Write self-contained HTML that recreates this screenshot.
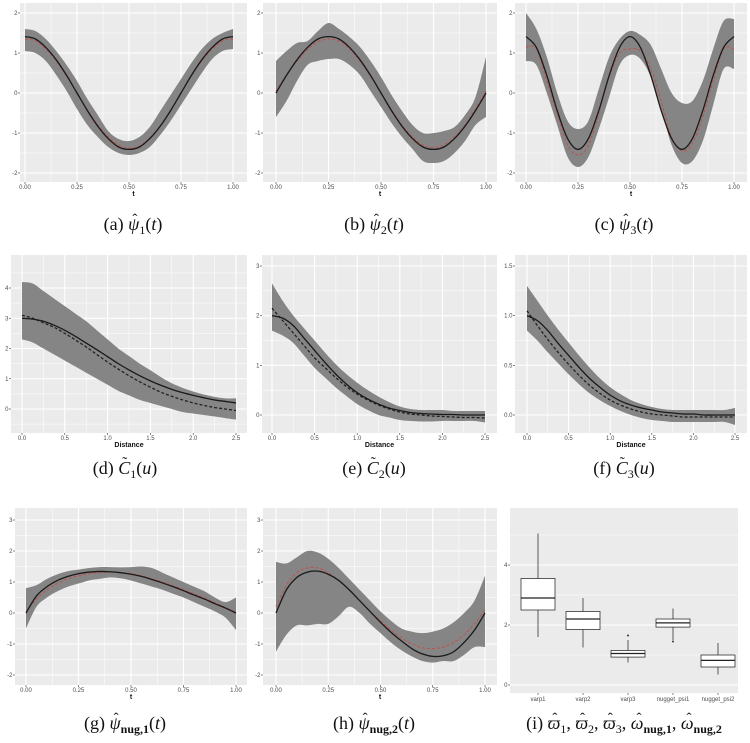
<!DOCTYPE html>
<html><head><meta charset="utf-8">
<style>
html,body{margin:0;padding:0;background:#fff;}
svg{display:block;font-family:"Liberation Sans",sans-serif;}
.cap{font-family:"Liberation Serif",serif;font-size:18px;fill:#111;}
.tk{font-size:6px;fill:#4d4d4d;}
.ttl{font-size:7px;font-weight:bold;fill:#111;}
</style></head>
<body>
<svg id="fig" width="750" height="743" viewBox="0 0 750 743" xmlns="http://www.w3.org/2000/svg"></svg>
<script>
// ---- data ----
const tGrid = [0,0.05,0.1,0.15,0.2,0.25,0.3,0.35,0.4,0.45,0.5,0.55,0.6,0.65,0.7,0.75,0.8,0.85,0.9,0.95,1];
const dGrid = [0,0.125,0.25,0.375,0.5,0.625,0.75,0.875,1,1.125,1.25,1.375,1.5,1.625,1.75,1.875,2,2.125,2.25,2.375,2.5];

const aTrue = [1.41,1.35,1.14,0.83,0.44,0,-0.44,-0.83,-1.14,-1.35,-1.41,-1.35,-1.14,-0.83,-0.44,0,0.44,0.83,1.14,1.35,1.41];
const aEst  = [1.35,1.3,1.1,0.8,0.42,0,-0.42,-0.8,-1.1,-1.3,-1.38,-1.33,-1.12,-0.82,-0.43,0,0.43,0.8,1.1,1.3,1.35];
const aUp   = [1.6,1.55,1.35,1.05,0.7,0.3,-0.15,-0.55,-0.95,-1.15,-1.2,-1.1,-0.85,-0.45,-0.05,0.35,0.75,1.1,1.35,1.5,1.6];
const aLo   = [1.05,1.0,0.8,0.45,0.05,-0.4,-0.8,-1.1,-1.35,-1.5,-1.55,-1.5,-1.35,-1.05,-0.7,-0.3,0.1,0.5,0.85,1.05,1.1];

const bTrue = [0,0.44,0.83,1.14,1.35,1.41,1.35,1.14,0.83,0.44,0,-0.44,-0.83,-1.14,-1.35,-1.41,-1.35,-1.14,-0.83,-0.44,0];
const bEst  = [0.05,0.45,0.8,1.08,1.28,1.35,1.3,1.1,0.8,0.42,0,-0.42,-0.8,-1.1,-1.3,-1.36,-1.3,-1.1,-0.8,-0.4,0.05];
const bUp   = [0.8,1.05,1.25,1.3,1.55,1.75,1.6,1.4,1.15,0.8,0.4,-0.05,-0.45,-0.8,-1.0,-1.0,-0.95,-0.85,-0.55,-0.1,0.9];
const bLo   = [-0.6,-0.2,0.3,0.7,0.8,0.85,0.85,0.7,0.45,0.05,-0.35,-0.75,-1.1,-1.4,-1.7,-1.75,-1.7,-1.5,-1.2,-0.8,-0.6];

const cTrue = [1.41,1.14,0.44,-0.44,-1.14,-1.41,-1.14,-0.44,0.44,1.14,1.41,1.14,0.44,-0.44,-1.14,-1.41,-1.14,-0.44,0.44,1.14,1.41];
const cEst  = [1.15,1.1,0.3,-0.5,-1.3,-1.55,-1.3,-0.5,0.4,1.0,1.1,1.05,0.6,-0.2,-1.1,-1.45,-1.25,-0.6,0.3,1.1,1.1];
const cUp   = [2.0,1.6,0.9,0.0,-0.7,-0.9,-0.7,0.1,0.9,1.35,1.55,1.45,1.2,0.6,0.0,-0.25,-0.2,0.3,1.1,1.8,1.85];
const cLo   = [0.8,0.7,0.0,-0.8,-1.6,-1.85,-1.6,-0.9,-0.1,0.7,0.95,0.85,0.4,-0.4,-1.3,-1.75,-1.7,-1.2,-0.3,0.6,0.6];

const dTrue = [3,2.97,2.9,2.77,2.6,2.4,2.18,1.96,1.73,1.5,1.29,1.1,0.93,0.78,0.65,0.54,0.45,0.37,0.3,0.25,0.2];
const dEst  = [3.1,3.0,2.85,2.7,2.5,2.28,2.05,1.8,1.55,1.32,1.1,0.9,0.72,0.55,0.42,0.3,0.2,0.12,0.05,0.0,-0.05];
const dUp   = [4.2,4.15,3.9,3.65,3.4,3.15,2.9,2.6,2.3,2.0,1.75,1.5,1.28,1.05,0.85,0.7,0.58,0.48,0.4,0.35,0.35];
const dLo   = [2.3,2.2,2.0,1.8,1.6,1.4,1.2,1.0,0.8,0.6,0.45,0.3,0.2,0.1,0.0,-0.1,-0.15,-0.2,-0.25,-0.3,-0.35];

const eTrue = [2.0,1.95,1.8,1.55,1.3,1.05,0.82,0.62,0.45,0.32,0.22,0.14,0.09,0.05,0.03,0.02,0.01,0.01,0,0,0];
const eEst  = [2.15,1.9,1.65,1.4,1.15,0.95,0.75,0.57,0.42,0.3,0.2,0.12,0.06,0.02,0.0,-0.02,-0.03,-0.04,-0.05,-0.05,-0.06];
const eUp   = [2.65,2.3,2.0,1.75,1.5,1.25,1.02,0.82,0.65,0.5,0.37,0.26,0.17,0.12,0.1,0.1,0.1,0.08,0.08,0.08,0.08];
const eLo   = [1.7,1.6,1.45,1.2,0.95,0.75,0.55,0.38,0.22,0.1,0.0,-0.05,-0.1,-0.12,-0.13,-0.13,-0.12,-0.12,-0.12,-0.12,-0.15];

const fTrue = [1.0,0.95,0.85,0.72,0.6,0.48,0.37,0.28,0.2,0.14,0.1,0.07,0.05,0.03,0.02,0.01,0.01,0,0,0,0];
const fEst  = [1.05,0.9,0.76,0.63,0.51,0.4,0.3,0.22,0.15,0.1,0.06,0.03,0.01,0,-0.01,-0.02,-0.02,-0.02,-0.02,-0.02,-0.02];
const fUp   = [1.3,1.15,1.0,0.86,0.73,0.6,0.48,0.37,0.28,0.21,0.15,0.11,0.08,0.06,0.05,0.05,0.05,0.05,0.05,0.05,0.07];
const fLo   = [0.85,0.75,0.63,0.52,0.41,0.31,0.22,0.15,0.09,0.04,0.0,-0.03,-0.05,-0.06,-0.07,-0.07,-0.07,-0.07,-0.07,-0.07,-0.1];

const gTrue = [0,0.55,0.85,1.05,1.18,1.27,1.32,1.34,1.33,1.3,1.25,1.18,1.08,0.97,0.85,0.72,0.58,0.45,0.3,0.16,0];
const gEst  = [0.05,0.45,0.75,0.95,1.1,1.2,1.27,1.3,1.32,1.3,1.27,1.2,1.1,1.0,0.88,0.75,0.62,0.48,0.33,0.18,0.02];
const gUp   = [0.8,0.9,1.1,1.25,1.35,1.4,1.45,1.48,1.48,1.47,1.48,1.5,1.45,1.3,1.15,1.0,0.85,0.7,0.5,0.35,0.5];
const gLo   = [-0.5,0.2,0.5,0.7,0.85,0.95,1.05,1.1,1.15,1.12,1.05,0.95,0.85,0.75,0.62,0.5,0.35,0.2,0.05,-0.15,-0.55];

const hTrue = [0,0.75,1.15,1.32,1.35,1.25,1.05,0.75,0.4,0.05,-0.3,-0.62,-0.9,-1.15,-1.32,-1.4,-1.38,-1.25,-0.95,-0.55,0];
const hEst  = [0.2,0.9,1.3,1.45,1.45,1.3,1.05,0.75,0.4,0.05,-0.25,-0.55,-0.8,-1.0,-1.12,-1.15,-1.1,-0.95,-0.7,-0.35,0.1];
const hUp   = [1.65,1.6,1.8,2.0,1.95,1.75,1.45,1.1,0.75,0.4,0.05,-0.25,-0.5,-0.6,-0.65,-0.6,-0.5,-0.3,0.0,0.4,1.2];
const hLo   = [-1.25,-0.7,-0.4,-0.4,-0.35,-0.35,-0.1,0.2,0.0,-0.35,-0.65,-0.95,-1.2,-1.4,-1.55,-1.6,-1.55,-1.55,-1.35,-1.1,-1.1];

const boxCats = ["varp1","varp2","varp3","nugget_psi1","nugget_psi2"];
const boxMin  = [1.6,1.25,0.75,1.5,0.35];
const boxQ1   = [2.5,1.85,0.93,1.93,0.6];
const boxMed  = [2.9,2.2,1.05,2.07,0.82];
const boxQ3   = [3.55,2.45,1.15,2.2,1.0];
const boxMax  = [5.05,2.9,1.5,2.55,1.4];
const boxOut  = [[],[],[1.65],[1.45],[]];

const tTicks = ["0.00","0.25","0.50","0.75","1.00"];
const dTicks = ["0.0","0.5","1.0","1.5","2.0","2.5"];

// ---- drawing ----
const NS = "http://www.w3.org/2000/svg";
const svg = document.getElementById("fig");
function mk(tag, attrs, parent){ const e=document.createElementNS(NS,tag); for(const k in attrs) e.setAttribute(k,attrs[k]); (parent||svg).appendChild(e); return e; }

function smooth(P, startCmd){
  let d = (startCmd||"M") + P[0][0].toFixed(2)+","+P[0][1].toFixed(2);
  for(let i=0;i<P.length-1;i++){
    const p0=P[Math.max(0,i-1)], p1=P[i], p2=P[i+1], p3=P[Math.min(P.length-1,i+2)];
    const c1=[p1[0]+(p2[0]-p0[0])/6, p1[1]+(p2[1]-p0[1])/6];
    const c2=[p2[0]-(p3[0]-p1[0])/6, p2[1]-(p3[1]-p1[1])/6];
    d += " C"+c1[0].toFixed(2)+","+c1[1].toFixed(2)+" "+c2[0].toFixed(2)+","+c2[1].toFixed(2)+" "+p2[0].toFixed(2)+","+p2[1].toFixed(2);
  }
  return d;
}

function buildCap(segs){
  let html="", prevOff=0, pendingDx=0;
  segs.forEach(sg=>{
    const [txt, kind, w] = sg;
    let off=0, attrs="", dx=pendingDx; pendingDx=0;
    if(kind==="i") attrs=' font-style="italic"';
    if(kind==="s"){ off=4; attrs=' font-size="12"'; }
    if(kind==="sb"){ off=4; attrs=' font-size="12" font-weight="bold"'; }
    if(kind==="h"){ off=-6; attrs=' font-size="15"'; dx-=(w-2); pendingDx = w-2-5; }
    if(kind==="t"){ off=-7; attrs=' font-size="15"'; dx-=(w-2); pendingDx = w-2-5; }
    const dy = off-prevOff; prevOff=off;
    html += '<tspan'+attrs+(dy?' dy="'+dy+'"':'')+(dx?' dx="'+dx+'"':'')+'>'+txt+'</tspan>';
  });
  return html;
}

function panel(p){
  const g = mk("g",{});
  
  
  const sx = v => p.x0px + (v - p.xa) * (p.x1px - p.x0px) / (p.xb - p.xa);
  const sy = v => p.y0px + (v - p.ya) * (p.y1px - p.y0px) / (p.yb - p.ya);
  const bg = mk("rect",{x:p.L,y:p.T,width:p.R-p.L,height:p.B-p.T,fill:"#ebebeb"},g);
  
  
  const xs = p.xticks.map(Number), ys = p.yticks.map(Number);
  if(xs.length>1){
    const xstep = xs[1]-xs[0];
    for(let v=xs[0]-xstep/2; v<=xs[xs.length-1]+xstep/2+1e-9; v+=xstep/2){
      const X=sx(v); if(X<p.L||X>p.R) continue;
      const major = Math.abs(((v-xs[0])/xstep)%1)<1e-6;
      mk("line",{x1:X,x2:X,y1:p.T,y2:p.B,stroke:"#fff","stroke-width":major?1.1:0.5},g);
    }
  }
  const ystep = ys[1]-ys[0];
  for(let v=ys[0]-ystep/2; v<=ys[ys.length-1]+ystep/2+1e-9; v+=ystep/2){
    const Y=sy(v); if(Y<p.T||Y>p.B) continue;
    const major = Math.abs(((v-ys[0])/ystep)%1)<1e-6;
    mk("line",{x1:p.L,x2:p.R,y1:Y,y2:Y,stroke:"#fff","stroke-width":major?1.1:0.5},g);
  }
  p.xticks.forEach(t=>{
    const X=sx(Number(t));
    mk("line",{x1:X,x2:X,y1:p.B,y2:p.B+2,stroke:"#333","stroke-width":0.6},g);
    const tx=mk("text",{x:X,y:p.B+7,"text-anchor":"middle",class:"tk"},g); tx.textContent=t;
    
    
  });
  p.yticks.forEach(t=>{
    const Y=sy(Number(t));
    mk("line",{x1:p.L-2,x2:p.L,y1:Y,y2:Y,stroke:"#333","stroke-width":0.6},g);
    const tx=mk("text",{x:p.L-2.5,y:Y+2,"text-anchor":"end",class:"tk"},g); tx.textContent=t;
    
    
  });
  if(p.xtitle){
    const tt=mk("text",{x:(p.L+p.R)/2,y:p.B+14,"text-anchor":"middle",class:"ttl"},g); tt.textContent=p.xtitle;
    
    
  }
  if(p.grid){
    const upP = p.grid.map((v,i)=>[sx(v),sy(p.up[i])]);
    const loP = p.grid.map((v,i)=>[sx(v),sy(p.lo[i])]).reverse();
    const band = mk("path",{d:smooth(upP)+" "+smooth(loP,"L")+" Z",fill:"#858585"},g);
    
    
    const pts = a => p.grid.map((v,i)=>[sx(v),sy(a[i])]);
    const est = mk("path",{d:smooth(pts(p.est)),fill:"none",stroke:p.estColor,"stroke-width":p.estColor==="#222"?1.3:1,"stroke-dasharray":"3,2"},g);
    
    
    const tr = mk("path",{d:smooth(pts(p.tru)),fill:"none",stroke:"#1a1a1a","stroke-width":1.3},g);
    
    
  }
  if(p.box){
    const bw = 17;
    boxCats.forEach((c,i)=>{
      const X = sx(i+1);
      const bg2 = mk("g",{},g);
      
      
      mk("line",{x1:X,x2:X,y1:sy(boxMax[i]),y2:sy(boxQ3[i]),stroke:"#333","stroke-width":0.8},bg2);
      mk("line",{x1:X,x2:X,y1:sy(boxQ1[i]),y2:sy(boxMin[i]),stroke:"#333","stroke-width":0.8},bg2);
      mk("rect",{x:X-bw,y:sy(boxQ3[i]),width:2*bw,height:sy(boxQ1[i])-sy(boxQ3[i]),fill:"#fff",stroke:"#333","stroke-width":0.8},bg2);
      mk("line",{x1:X-bw,x2:X+bw,y1:sy(boxMed[i]),y2:sy(boxMed[i]),stroke:"#222","stroke-width":1.3},bg2);
      boxOut[i].forEach(o=>mk("circle",{cx:X,cy:sy(o),r:1,fill:"#333"},bg2));
      mk("line",{x1:X,x2:X,y1:p.B,y2:p.B+2,stroke:"#333","stroke-width":0.6},g);
      const tx=mk("text",{x:X,y:p.B+8,"text-anchor":"middle",class:"tk"},g); tx.textContent=c;
      
      
    });
  }
  const cap = mk("text",{x:p.capX,y:p.capY,"text-anchor":"middle",class:"cap"},g);
  cap.innerHTML = buildCap(p.cap);
  
  
}

const R1={T:3,B:182,ya:-2,yb:2,y0px:173,y1px:13};
const R2T=255,R2B=433;
const R3={T:508,B:685};
const psiCap = (lbl, s, bold) => [[lbl+" ","n"],["ψ","i"],["ˆ","h",9],[s,bold?"sb":"s"],["(","n"],["t","i"],[")","n"]];
const cCap = (lbl, s) => [[lbl+" ","n"],["C","i"],["˜","t",10],[s,"s"],["(","n"],["u","i"],[")","n"]];
panel(Object.assign({name:"panel-a",L:20,R:247,xa:0,xb:1,x0px:25,x1px:233,xticks:tTicks,yticks:["-2","-1","0","1","2"],xtitle:"t",grid:tGrid,tru:aTrue,est:aEst,up:aUp,lo:aLo,estColor:"#c0504d",capX:133,capY:230,cap:psiCap("(a)","1")},R1));
panel(Object.assign({name:"panel-b",L:263,R:497,xa:0,xb:1,x0px:276,x1px:486,xticks:tTicks,yticks:["-2","-1","0","1","2"],xtitle:"t",grid:tGrid,tru:bTrue,est:bEst,up:bUp,lo:bLo,estColor:"#c0504d",capX:374,capY:230,cap:psiCap("(b)","2")},R1));
panel(Object.assign({name:"panel-c",L:515,R:747,xa:0,xb:1,x0px:526,x1px:734,xticks:tTicks,yticks:["-2","-1","0","1","2"],xtitle:"t",grid:tGrid,tru:cTrue,est:cEst,up:cUp,lo:cLo,estColor:"#c0504d",capX:624,capY:230,cap:psiCap("(c)","3")},R1));

panel({name:"panel-d",L:11,R:247,T:R2T,B:R2B,xa:0,xb:2.5,x0px:22,x1px:236,ya:0,yb:4,y0px:409,y1px:288,xticks:dTicks,yticks:["0","1","2","3","4"],xtitle:"Distance",grid:dGrid,tru:dTrue,est:dEst,up:dUp,lo:dLo,estColor:"#222",capX:125,capY:474,cap:cCap("(d)","1")});
panel({name:"panel-e",L:262,R:497,T:R2T,B:R2B,xa:0,xb:2.5,x0px:272,x1px:485,ya:0,yb:3,y0px:415,y1px:266,xticks:dTicks,yticks:["0","1","2","3"],xtitle:"Distance",grid:dGrid,tru:eTrue,est:eEst,up:eUp,lo:eLo,estColor:"#222",capX:374,capY:474,cap:cCap("(e)","2")});
panel({name:"panel-f",L:515,R:747,T:R2T,B:R2B,xa:0,xb:2.5,x0px:527,x1px:735,ya:0,yb:1.5,y0px:415,y1px:266,xticks:dTicks,yticks:["0.0","0.5","1.0","1.5"],xtitle:"Distance",grid:dGrid,tru:fTrue,est:fEst,up:fUp,lo:fLo,estColor:"#222",capX:624,capY:474,cap:cCap("(f)","3")});

panel(Object.assign({name:"panel-g",L:15,R:247,xa:0,xb:1,x0px:26,x1px:236,ya:0,yb:1,y0px:613,y1px:582,xticks:tTicks,yticks:["-2","-1","0","1","2","3"],xtitle:"t",grid:tGrid,tru:gTrue,est:gEst,up:gUp,lo:gLo,estColor:"#c0504d",capX:125,capY:729,cap:psiCap("(g)","nug,1",true)},R3));
panel(Object.assign({name:"panel-h",L:263,R:497,xa:0,xb:1,x0px:276,x1px:485,ya:0,yb:1,y0px:613,y1px:582,xticks:tTicks,yticks:["-2","-1","0","1","2","3"],xtitle:"t",grid:tGrid,tru:hTrue,est:hEst,up:hUp,lo:hLo,estColor:"#c0504d",capX:374,capY:729,cap:psiCap("(h)","nug,2",true)},R3));
panel({name:"panel-i",L:510,R:738,T:508,B:693,xa:1,xb:5,x0px:538,x1px:718,ya:0,yb:4,y0px:685,y1px:565,xticks:[],yticks:["0","2","4"],box:true,capX:624,capY:729,
  cap:[["(i) ","n"],["ϖ","i"],["ˆ","h",10],["1","s"],[", ","n"],["ϖ","i"],["ˆ","h",10],["2","s"],[", ","n"],["ϖ","i"],["ˆ","h",10],["3","s"],[", ","n"],["ω","i"],["ˆ","h",9],["nug,1","sb"],[", ","n"],["ω","i"],["ˆ","h",9],["nug,2","sb"]]});
</script>
</body></html>
